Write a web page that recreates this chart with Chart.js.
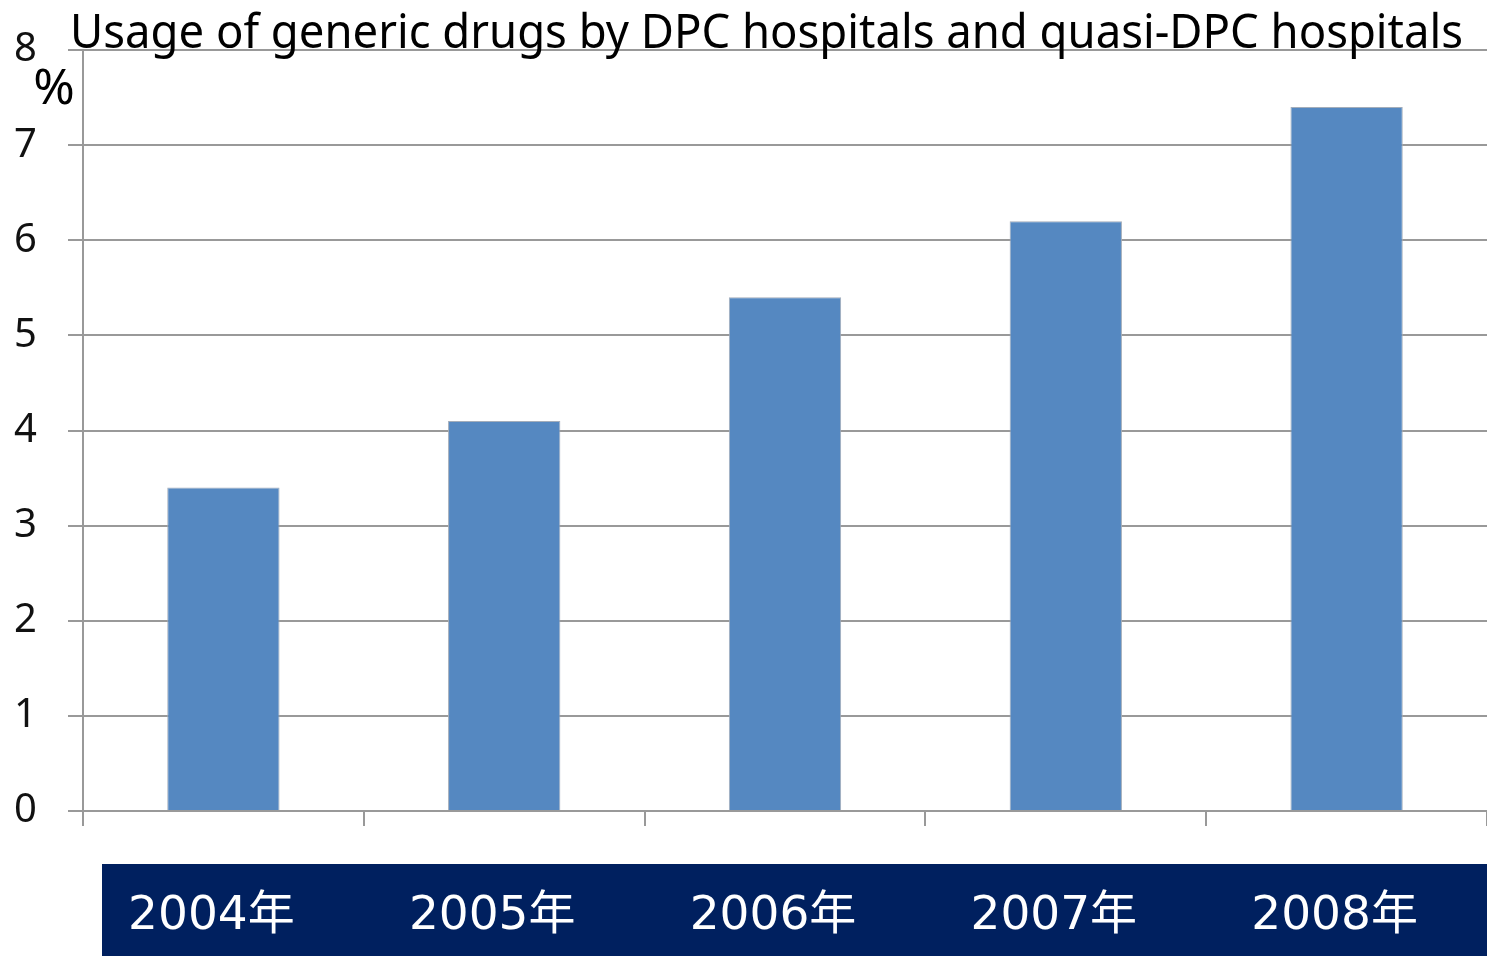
<!DOCTYPE html>
<html>
<head>
<meta charset="utf-8">
<script src="https://cdn.jsdelivr.net/npm/chart.js@4/dist/chart.umd.min.js"></script>
<style>
  html, body { margin: 0; padding: 0; background: #fff; }
  #wrap { width: 1487px; height: 956px; position: relative; }
</style>
</head>
<body>
<div id="wrap"><canvas id="chart"></canvas></div>
<script>
// ---------- data ----------
const years = ["2004年", "2005年", "2006年", "2007年", "2008年"];
const usage = [3.4, 4.1, 5.4, 6.2, 7.4];
const yTicks = [0, 1, 2, 3, 4, 5, 6, 7, 8];
const titleText = "Usage of generic drugs by DPC hospitals and quasi-DPC hospitals";
const unitText = "%";

// ---------- colours ----------
const barBlue = "#5588c1";
const gridGray = "#999999";
const navy = "#00205f";

// navy band behind the category labels + title and unit
const decorations = {
  id: "decorations",
  beforeDraw(chart) {
    const { ctx } = chart;
    ctx.save();
    ctx.fillStyle = navy;
    ctx.fillRect(102, 864, 1487 - 102, 956 - 864);
    ctx.restore();
  },
  afterDraw(chart) {
    const { ctx } = chart;
    ctx.save();
    ctx.fillStyle = "#000";
    ctx.textBaseline = "alphabetic";
    ctx.textAlign = "left";
    ctx.font = '48px "Noto Sans"';
    ctx.fillText(titleText, 70, 48, 1393);
    ctx.font = '50px "Noto Sans"';
    ctx.textAlign = "center";
    ctx.fillText(unitText, 54, 104);
    ctx.restore();
  },
};

const ctx = document.getElementById("chart").getContext("2d");
new Chart(ctx, {
  type: "bar",
  data: {
    labels: years,
    datasets: [
      {
        data: usage,
        backgroundColor: barBlue,
        borderColor: "#a3adba",
        borderWidth: 1,
        categoryPercentage: 1,
        barPercentage: 0.4,
      },
    ],
  },
  options: {
    responsive: true,
    maintainAspectRatio: false,
    animation: false,
    layout: { padding: { top: 50, right: 0, bottom: 0, left: 0 } },
    plugins: {
      legend: { display: false },
      title: { display: false },
      tooltip: { enabled: false },
    },
    scales: {
      x: {
        grid: {
          offset: true,
          drawOnChartArea: false,
          drawTicks: true,
          tickLength: 15,
          color: gridGray,
          lineWidth: 2,
        },
        border: { display: true, color: gridGray, width: 2 },
        ticks: {
          color: "#ffffff",
          font: { family: '"DejaVu Sans", "Noto Sans CJK JP"', size: 47 },
          padding: 63,
          labelOffset: -12,
        },
        afterFit(scale) {
          scale.height = 145;
          scale.paddingLeft = 0;
          scale.paddingRight = 0;
        },
      },
      y: {
        min: 0,
        max: 8,
        afterBuildTicks(scale) {
          scale.ticks = yTicks.map((v) => ({ value: v }));
        },
        grid: {
          color: gridGray,
          lineWidth: 2,
          tickLength: 15,
        },
        border: { display: true, color: gridGray, width: 2 },
        ticks: {
          color: "#111111",
          font: { family: '"Noto Sans"', size: 40 },
          padding: 31,
        },
        afterFit(scale) {
          scale.width = 83;
          scale.paddingTop = 0;
          scale.paddingBottom = 0;
        },
      },
    },
  },
  plugins: [decorations],
});
</script>
</body>
</html>
